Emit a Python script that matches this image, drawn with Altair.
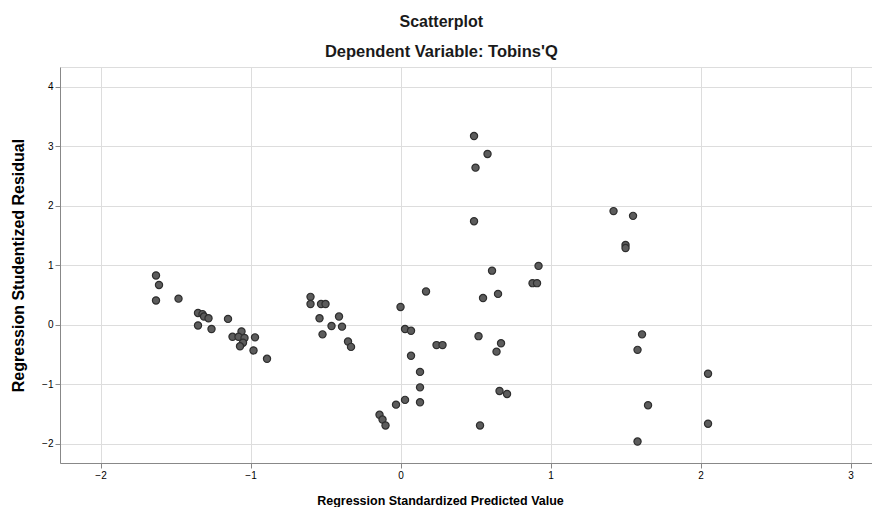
import altair as alt
import pandas as pd

# Regression Standardized Predicted Value
pred = [-1.63, -1.61, -1.63, -1.48, -1.35, -1.32, -1.31, -1.28, -1.35, -1.26,
        -1.15, -1.12, -1.06, -1.08, -1.04, -1.05, -1.07, -0.97, -0.98, -0.89,
        -0.60, -0.60, -0.53, -0.50, -0.54, -0.41, -0.46, -0.39, -0.52, -0.35, -0.33,
        0.17, 0.00, 0.03, 0.07, 0.24, 0.28, 0.07, 0.13, 0.13, 0.13, 0.03, -0.03,
        -0.14, -0.12, -0.10,
        0.49, 0.58, 0.50, 0.49, 0.61, 0.92, 0.88, 0.91, 0.65, 0.55, 0.52, 0.67,
        0.64, 0.66, 0.71, 0.53,
        1.42, 1.55, 1.50, 1.50, 1.61, 1.58, 1.65, 1.58, 2.05, 2.05]
# Regression Studentized Residual
resid = [0.83, 0.67, 0.41, 0.44, 0.20, 0.18, 0.14, 0.11, -0.01, -0.07,
         0.10, -0.20, -0.11, -0.20, -0.22, -0.30, -0.36, -0.21, -0.43, -0.57,
         0.47, 0.35, 0.35, 0.35, 0.11, 0.14, -0.02, -0.03, -0.16, -0.28, -0.37,
         0.56, 0.30, -0.07, -0.10, -0.34, -0.34, -0.52, -0.79, -1.05, -1.30, -1.26, -1.34,
         -1.51, -1.59, -1.69,
         3.17, 2.87, 2.64, 1.74, 0.91, 0.99, 0.70, 0.70, 0.52, 0.45, -0.19, -0.31,
         -0.45, -1.11, -1.16, -1.69,
         1.91, 1.83, 1.34, 1.29, -0.16, -0.42, -1.35, -1.96, -0.82, -1.66]

x_ticks = [-2, -1, 0, 1, 2, 3]
y_ticks = [-2, -1, 0, 1, 2, 3, 4]

df = pd.DataFrame({"pred": pred, "resid": resid})

FONT = "Liberation Sans"

chart = alt.Chart(df).mark_circle(
    size=52, color="#5c5c5c", opacity=1, stroke="#2e2e2e", strokeWidth=1.2
).encode(
    x=alt.X("pred:Q",
            scale=alt.Scale(domain=[-2.27, 3.143], nice=False, zero=False),
            axis=alt.Axis(values=x_ticks, title="Regression Standardized Predicted Value",
                          titleX=380, titleY=31, titleAnchor="middle",
                          titleFontSize=12.5)),
    y=alt.Y("resid:Q",
            scale=alt.Scale(domain=[-2.32, 4.33], nice=False, zero=False),
            axis=alt.Axis(values=y_ticks, title="Regression Studentized Residual",
                          titlePadding=15, titleFontSize=16)),
).properties(
    width=812,
    height=396,
    title=alt.TitleParams(
        text="Scatterplot",
        subtitle="Dependent Variable: Tobins'Q",
        font=FONT, fontSize=16, fontWeight="bold", color="#1a1a1a",
        subtitleFont=FONT, subtitleFontSize=16.5, subtitleFontWeight="bold",
        subtitleColor="#1a1a1a", subtitlePadding=14,
        anchor="middle", frame="bounds", offset=7,
    ),
    autosize=alt.AutoSizeParams(type="none"),
    padding={"left": 52, "top": 59, "right": 0, "bottom": 44},
).configure_view(
    stroke=None
).configure_axis(
    grid=True, gridColor="#dcdcdc", gridWidth=2,
    domainColor="#8c8c8c", domainWidth=1.5,
    ticks=False, labelPadding=7,
    labelFont=FONT, labelFontSize=10, labelColor="#666666",
    titleFont=FONT, titleFontWeight="bold", titleColor="#1a1a1a",
).configure(background="white")

chart.save("out.html", embed_options={"renderer": "svg", "actions": False})
